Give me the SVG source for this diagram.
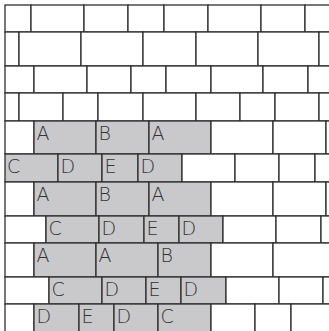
<svg xmlns="http://www.w3.org/2000/svg" width="329" height="331" viewBox="0 0 329 331">
<style>
rect{stroke:#2e2e2e;stroke-width:1.3;fill:#ffffff}
rect.g{fill:#c9c9cb}
text{font-family:"DejaVu Sans","Liberation Sans",sans-serif;font-weight:200;font-size:19px;fill:#333333}
</style>
<rect x="0" y="0" width="329" height="331" style="fill:#ffffff;stroke:none"/>
<g id="row1">
<rect x="5" y="5" width="26" height="27"/><rect x="31" y="5" width="53" height="27"/><rect x="84" y="5" width="44" height="27"/><rect x="128" y="5" width="36" height="27"/><rect x="164" y="5" width="44" height="27"/><rect x="208" y="5" width="53" height="27"/><rect x="261" y="5" width="44" height="27"/><rect x="305" y="5" width="40" height="27"/>
</g>
<g id="row2">
<rect x="5" y="32" width="14" height="34"/><rect x="19" y="32" width="62" height="34"/><rect x="81" y="32" width="62" height="34"/><rect x="143" y="32" width="53" height="34"/><rect x="196" y="32" width="62" height="34"/><rect x="258" y="32" width="61" height="34"/><rect x="319" y="32" width="30" height="34"/>
</g>
<g id="row3">
<rect x="5" y="66" width="29" height="27"/><rect x="34" y="66" width="53" height="27"/><rect x="87" y="66" width="44" height="27"/><rect x="131" y="66" width="35" height="27"/><rect x="166" y="66" width="45" height="27"/><rect x="211" y="66" width="52" height="27"/><rect x="263" y="66" width="45" height="27"/><rect x="308" y="66" width="40" height="27"/>
</g>
<g id="row4">
<rect x="5" y="93" width="14" height="28"/><rect x="19" y="93" width="44" height="28"/><rect x="63" y="93" width="35" height="28"/><rect x="98" y="93" width="45" height="28"/><rect x="143" y="93" width="53" height="28"/><rect x="196" y="93" width="44" height="28"/><rect x="240" y="93" width="35" height="28"/><rect x="275" y="93" width="44" height="28"/><rect x="319" y="93" width="30" height="28"/>
</g>
<g id="row5">
<rect x="5" y="121" width="29" height="33"/><rect class="g" x="34" y="121" width="62" height="33"/><rect class="g" x="96" y="121" width="53" height="33"/><rect class="g" x="149" y="121" width="62" height="33"/><rect x="211" y="121" width="62" height="33"/><rect x="273" y="121" width="53" height="33"/><rect x="326" y="121" width="30" height="33"/>
<text x="36.5" y="140.3">A</text><text x="98.5" y="140.3">B</text><text x="151.5" y="140.3">A</text>
</g>
<g id="row6">
<rect class="g" x="5" y="154" width="53" height="28"/><rect class="g" x="58" y="154" width="44" height="28"/><rect class="g" x="102" y="154" width="36" height="28"/><rect class="g" x="138" y="154" width="44" height="28"/><rect x="182" y="154" width="53" height="28"/><rect x="235" y="154" width="44" height="28"/><rect x="279" y="154" width="36" height="28"/><rect x="315" y="154" width="40" height="28"/>
<text x="7" y="173.3">C</text><text x="60.5" y="173.3">D</text><text x="104.5" y="173.3">E</text><text x="140.5" y="173.3">D</text>
</g>
<g id="row7">
<rect x="5" y="182" width="29" height="34"/><rect class="g" x="34" y="182" width="62" height="34"/><rect class="g" x="96" y="182" width="53" height="34"/><rect class="g" x="149" y="182" width="62" height="34"/><rect x="211" y="182" width="62" height="34"/><rect x="273" y="182" width="53" height="34"/><rect x="326" y="182" width="30" height="34"/>
<text x="36.5" y="201.3">A</text><text x="98.5" y="201.3">B</text><text x="151.5" y="201.3">A</text>
</g>
<g id="row8">
<rect x="5" y="216" width="41" height="27"/><rect class="g" x="46" y="216" width="53" height="27"/><rect class="g" x="99" y="216" width="45" height="27"/><rect class="g" x="144" y="216" width="35" height="27"/><rect class="g" x="179" y="216" width="44" height="27"/><rect x="223" y="216" width="53" height="27"/><rect x="276" y="216" width="45" height="27"/><rect x="321" y="216" width="30" height="27"/>
<text x="48.5" y="235">C</text><text x="101.5" y="235">D</text><text x="146.5" y="235">E</text><text x="181.5" y="235">D</text>
</g>
<g id="row9">
<rect x="5" y="243" width="29" height="34"/><rect class="g" x="34" y="243" width="62" height="34"/><rect class="g" x="96" y="243" width="62" height="34"/><rect class="g" x="158" y="243" width="53" height="34"/><rect x="211" y="243" width="62" height="34"/><rect x="273" y="243" width="80" height="34"/>
<text x="36.5" y="261.8">A</text><text x="98.5" y="261.8">A</text><text x="160.5" y="261.8">B</text>
</g>
<g id="row10">
<rect x="5" y="277" width="44" height="27"/><rect class="g" x="49" y="277" width="53" height="27"/><rect class="g" x="102" y="277" width="44" height="27"/><rect class="g" x="146" y="277" width="35" height="27"/><rect class="g" x="181" y="277" width="45" height="27"/><rect x="226" y="277" width="53" height="27"/><rect x="279" y="277" width="44" height="27"/><rect x="323" y="277" width="30" height="27"/>
<text x="51.5" y="296">C</text><text x="104.5" y="296">D</text><text x="148.5" y="296">E</text><text x="183.5" y="296">D</text>
</g>
<g id="row11">
<rect x="5" y="304" width="29" height="40"/><rect class="g" x="34" y="304" width="45" height="40"/><rect class="g" x="79" y="304" width="35" height="40"/><rect class="g" x="114" y="304" width="44" height="40"/><rect class="g" x="158" y="304" width="53" height="40"/><rect x="211" y="304" width="44" height="40"/><rect x="255" y="304" width="36" height="40"/><rect x="291" y="304" width="60" height="40"/>
<text x="36.5" y="322.8">D</text><text x="81.5" y="322.8">E</text><text x="116.5" y="322.8">D</text><text x="160.5" y="322.8">C</text>
</g>
</svg>
